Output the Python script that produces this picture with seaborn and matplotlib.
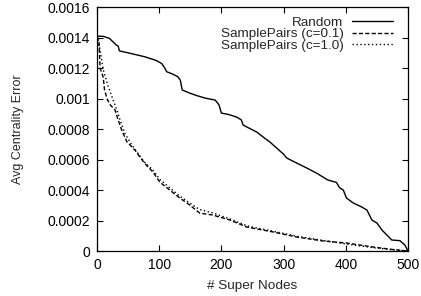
import numpy as np
import pandas as pd
import matplotlib
matplotlib.use("Agg")
import matplotlib.pyplot as plt
import seaborn as sns
from matplotlib.ticker import FuncFormatter

# ── data (y in units of 1e-4) ──────────────────────────────────
rand_x = [0, 10, 20, 31, 34, 36, 50, 77, 95, 104, 109, 112, 122, 130, 134, 137,
          149, 160, 174, 190, 196, 200, 212, 225, 232, 235, 245, 257, 268, 278, 289,
          300, 305, 321, 337, 353, 371, 385, 390, 396, 401, 412, 425, 434, 442, 450,
          458, 466, 474, 487, 495, 500]
rand_y = [14.1, 14.08, 13.95, 13.51, 13.45, 13.13, 13.0, 12.74, 12.5, 12.3, 12.0,
          11.76, 11.6, 11.43, 11.2, 10.56, 10.36, 10.2, 10.03, 9.9, 9.6, 9.05,
          8.95, 8.78, 8.6, 8.26, 8.05, 7.8, 7.45, 7.15, 6.75, 6.35, 6.1, 5.77, 5.45,
          5.11, 4.66, 4.5, 4.15, 4.0, 3.48, 3.15, 2.9, 2.69, 2.03, 1.84, 1.38, 1.05,
          0.72, 0.68, 0.39, 0.0]

sp01_x = [0, 3, 5, 10, 12, 16, 21, 29, 34, 40, 48, 61, 72, 80, 90, 101, 117, 133,
          149, 165, 186, 214, 241, 283, 321, 363, 402, 444, 475, 500]
sp01_y = [14.1, 13.8, 12.0, 11.4, 10.6, 10.0, 9.6, 9.25, 8.6, 7.9, 7.17, 6.62, 6.0,
          5.6, 5.18, 4.52, 4.0, 3.48, 3.02, 2.49, 2.36, 2.03, 1.57, 1.25, 0.92, 0.66,
          0.52, 0.26, 0.1, 0.0]

sp10_x = [0, 3, 5, 10, 18, 26, 32, 37, 45, 56, 66, 76, 90, 101, 117, 133, 149,
          165, 186, 214, 241, 283, 321, 363, 402, 444, 475, 500]
sp10_y = [14.1, 13.6, 13.2, 11.9, 10.8, 9.9, 9.25, 8.6, 7.7, 6.95, 6.4, 5.85, 5.3,
          4.7, 4.15, 3.6, 3.15, 2.72, 2.5, 2.1, 1.65, 1.3, 0.97, 0.7, 0.45, 0.22,
          0.08, 0.0]

x_ticks = [0, 100, 200, 300, 400, 500]
y_ticks = [0, 0.0002, 0.0004, 0.0006, 0.0008, 0.001, 0.0012, 0.0014, 0.0016]

series = [
    ("Random", rand_x, rand_y, "-"),
    ("SamplePairs (c=0.1)", sp01_x, sp01_y, (0, (3, 1.6))),
    ("SamplePairs (c=1.0)", sp10_x, sp10_y, (0, (1, 1.8))),
]

# ── plot ────────────────────────────────────────────────────
sns.set_style("ticks")
plt.rcParams["font.family"] = ["Liberation Sans", "DejaVu Sans"]
plt.rcParams["font.size"] = 10

fig = plt.figure(figsize=(4.21, 2.96), dpi=100)
ax = fig.add_axes([0.2304, 0.152, 0.7387, 0.824])

for name, xs, ys, ls in series:
    df = pd.DataFrame({"x": xs, "y": np.array(ys) * 1e-4})
    sns.lineplot(data=df, x="x", y="y", ax=ax, color="black", lw=1.0,
                 linestyle=ls, label=name)

ax.set_xlim(0, 500); ax.set_ylim(0, 0.0016)
ax.set_xticks(x_ticks); ax.set_yticks(y_ticks)
ax.yaxis.set_major_formatter(FuncFormatter(lambda v, _: f"{v:g}"))
ax.tick_params(direction="in", length=4, width=0.8, top=True, right=True,
               labelsize=10, colors="black", pad=5)
for s in ax.spines.values():
    s.set_visible(True); s.set_color("black"); s.set_linewidth(0.9)

ax.set_xlabel("# Super Nodes", fontsize=9.7, labelpad=6)
ax.set_ylabel("Avg Centrality Error", fontsize=9, labelpad=17)

ax.legend(loc="upper right", bbox_to_anchor=(0.97, 0.983), borderaxespad=0,
          frameon=False, markerfirst=False, fontsize=9.7,
          handlelength=3.1, handletextpad=0.6, labelspacing=-0.08)

fig.savefig("out.png", dpi=100)
